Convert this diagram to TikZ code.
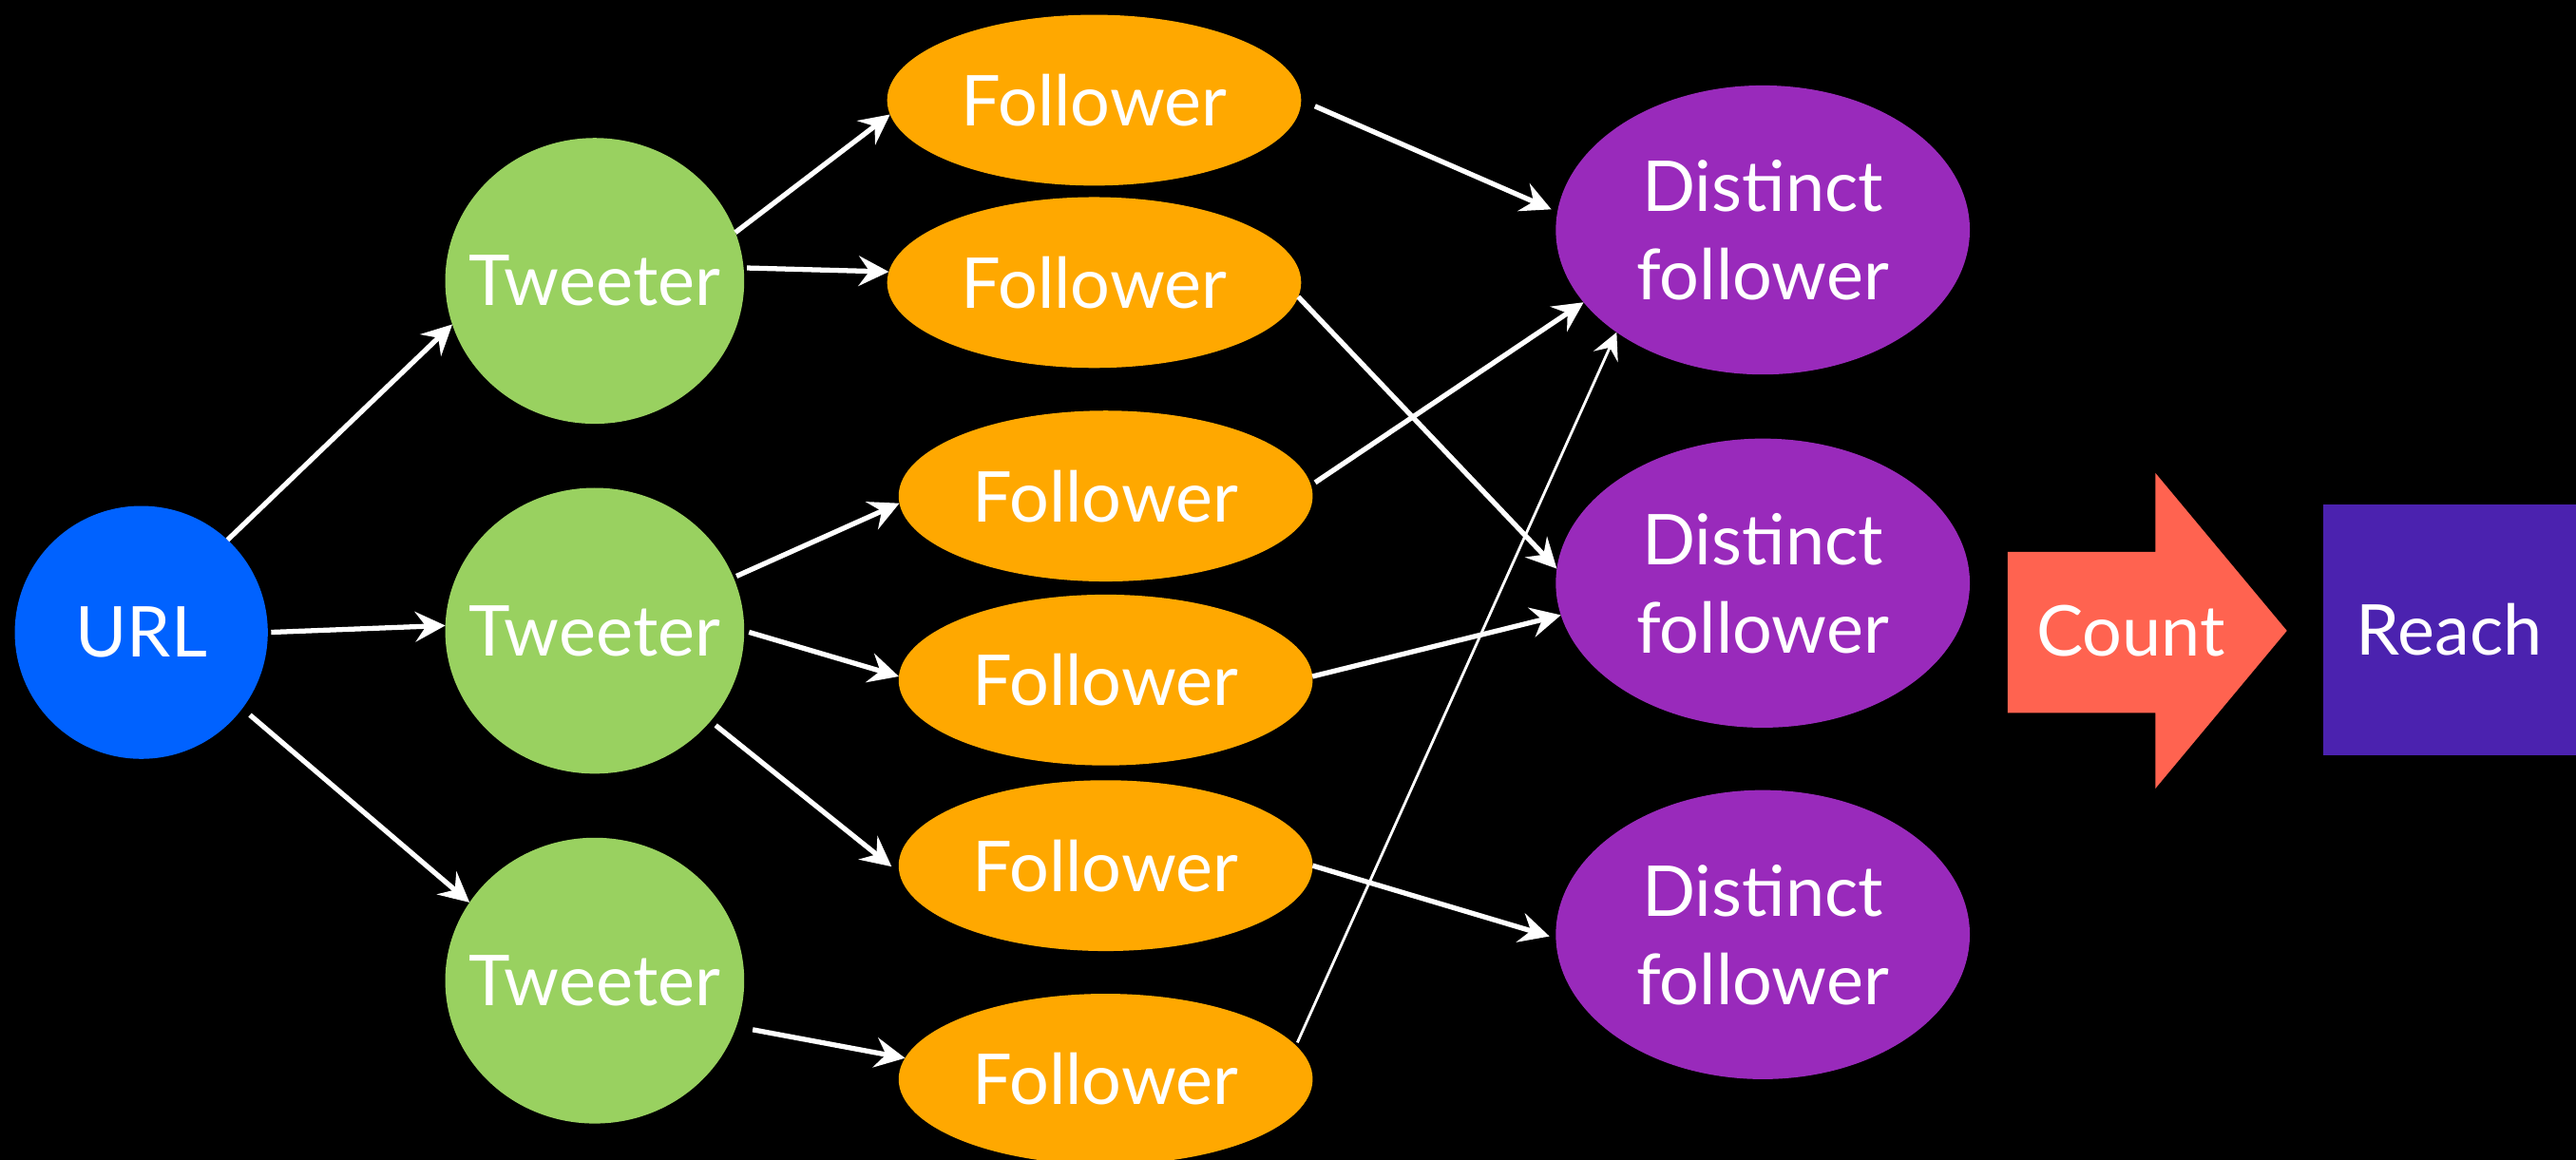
\documentclass[tikz,border=0pt]{standalone}
\usepackage{fontspec}
\setmainfont{Lato}
\usetikzlibrary{shapes.geometric,arrows.meta}
\newcommand\pxu{0.01729cm}
\definecolor{urlblue}{RGB}{0,98,255}
\definecolor{tweetgreen}{RGB}{153,209,96}
\definecolor{followorange}{RGB}{255,168,0}
\definecolor{distpurple}{RGB}{153,42,187}
\definecolor{countred}{RGB}{255,99,80}
\definecolor{reachviolet}{RGB}{75,34,175}
\begin{document}
\begin{tikzpicture}[x=\pxu,y=-\pxu,
  txt/.style={text=white,font=\fontsize{21}{26.5}\selectfont},
  blob/.style={ellipse,inner sep=0pt,outer sep=0pt,txt},
  urlnode/.style={circle,inner sep=0pt,outer sep=0pt,txt,fill=urlblue,minimum size=154*\pxu},
  tweeter/.style={blob,inner xsep=-12pt,fill=tweetgreen,minimum width=182*\pxu,minimum height=174*\pxu},
  follower/.style={blob,fill=followorange,minimum width=252*\pxu,minimum height=104*\pxu},
  distinct/.style={blob,fill=distpurple,minimum width=252*\pxu,minimum height=176*\pxu,align=center},
  link/.style={draw=white,line width=1.5pt,-{Stealth[length=9pt,width=9pt,inset=3.2pt]}},
  thinlink/.style={draw=white,line width=0.8pt,-{Stealth[length=8pt,width=8pt,inset=3pt]}},
]
% background
\fill[black] (0,0) rectangle (1568,706);
\useasboundingbox (0,0) rectangle (1568,706);

% source
\node[urlnode] (url) at (86,385) {URL};

% tweeters
\node[tweeter] (t1) at (362,171) {Tweeter};
\node[tweeter] (t2) at (362,384) {Tweeter};
\node[tweeter] (t3) at (362,597) {Tweeter};

% followers
\node[follower] (f1) at (666,61)  {Follower};
\node[follower] (f2) at (666,172) {Follower};
\node[follower] (f3) at (673,302) {Follower};
\node[follower] (f4) at (673,414) {Follower};
\node[follower] (f5) at (673,527) {Follower};
\node[follower] (f6) at (673,657) {Follower};

% distinct followers
\node[distinct] (d1) at (1073,140) {Distinct\\follower};
\node[distinct] (d2) at (1073,355) {Distinct\\follower};
\node[distinct] (d3) at (1073,569) {Distinct\\follower};

% count arrow and result
\fill[countred] (1222,336) -- (1312,336) -- (1312,288) -- (1392,384)
  -- (1312,480) -- (1312,434) -- (1222,434) -- cycle;
\node[txt] (count) at (1297,384) {Count};
\node[txt,fill=reachviolet,minimum width=154*\pxu,minimum height=153*\pxu,inner sep=0pt] (reach) at (1491,383.5) {Reach};

% URL to tweeters
\draw[link] (url.47.6) -- (t1.197.7);
\draw[link,shorten <=1pt] (url.0.7) -- (t2.178);
\draw[link,shorten <=3pt] (url.-37) -- (t3.148.7);

% tweeters to followers
\draw[link] (t1.19) -- (f1.184.5);
\draw[link,shorten <=1pt] (t1.5.5) -- (f2.177.7);
\draw[link,shorten <=1pt] (t2.21) -- (f3.182.3);
\draw[link,shorten <=1.5pt] (t2.-0.6) -- (f4.179);
\draw[link,shorten <=2pt,shorten >=3pt] (t2.-38.9) -- (f5.182.6);
\draw[link,shorten <=5pt] (t3.-18.6) -- (f6.174.6);

% followers to distinct followers
\draw[link,shorten <=4.5pt,shorten >=2pt] (f1.0.8) -- (d1.175);
\draw[link] (f2.-4.1) -- (d2.176.5);
\draw[link,shorten <=1.5pt] (f3.3.1) -- (d1.202.5);
\draw[link] (f4.1.8) -- (d2.189);
\draw[link,shorten >=2pt] (f5.-0.9) -- (d3.181.7);
\draw[thinlink,shorten <=1pt] (f6.10) -- (d1.215.5);
\end{tikzpicture}
\end{document}
